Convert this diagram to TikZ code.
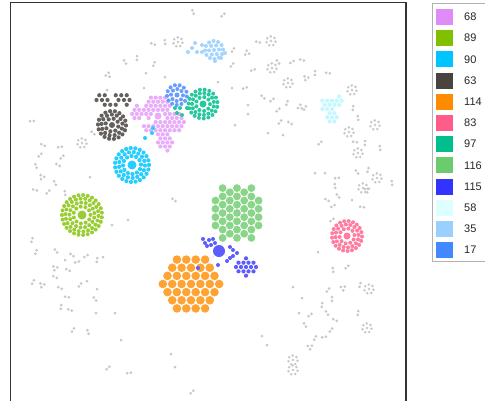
\documentclass[tikz,border=0pt]{standalone}
\usepackage{fontspec}
\setmainfont{Liberation Sans}
\definecolor{c68}{HTML}{E08CF8}
\definecolor{c89}{HTML}{80C000}
\definecolor{c90}{HTML}{00C4FF}
\definecolor{c63}{HTML}{4A4440}
\definecolor{c114}{HTML}{FF8C00}
\definecolor{c83}{HTML}{FF5C8A}
\definecolor{c97}{HTML}{00BF8C}
\definecolor{c116}{HTML}{6CCB6C}
\definecolor{c115}{HTML}{3333FF}
\definecolor{c58}{HTML}{DDFFFF}
\definecolor{c35}{HTML}{99D0FF}
\definecolor{c17}{HTML}{4488FF}
\definecolor{gdot}{HTML}{C8C8C8}
% lattice, horizontal rows: cx cy spacing n condition dotr style
\newcommand\latH[7]{%
 \foreach \i in {-#4,...,#4}{\foreach \j in {-#4,...,#4}{%
   \pgfmathsetmacro\dx{(\i+0.5*Mod(\j,2))*#3}%
   \pgfmathsetmacro\dy{\j*#3*0.866}%
   \pgfmathtruncatemacro\ins{#5}%
   \ifnum\ins=1 \fill[#7] (#1+\dx,#2+\dy) circle (#6);\fi
 }}}
% lattice, vertical columns
\newcommand\latV[7]{%
 \foreach \i in {-#4,...,#4}{\foreach \j in {-#4,...,#4}{%
   \pgfmathsetmacro\dy{(\i+0.5*Mod(\j,2))*#3}%
   \pgfmathsetmacro\dx{\j*#3*0.866}%
   \pgfmathtruncatemacro\ins{#5}%
   \ifnum\ins=1 \fill[#7] (#1+\dx,#2+\dy) circle (#6);\fi
 }}}
% ring cluster: cx cy hubr radii dotr style spacing
\newcommand\ringc[7]{%
 \fill[#6] (#1,#2) circle (#3);
 \foreach \rr in {#4}{%
   \pgfmathtruncatemacro\nn{2*pi*\rr/#7}%
   \foreach \k in {1,...,\nn}{\fill[#6] ([shift={(\k*360/\nn+\rr*23:\rr)}]#1,#2) circle (#5);}
 }}
% grey groups
\newcommand\gs[2]{\fill[gdot] (#1,#2) circle (1.5);}
\newcommand\gp[2]{\pgfmathsetmacro\ga{Mod(#1*7+#2*13,180)}%
 \fill[gdot] ([shift={(\ga:1.9)}]#1,#2) circle (1.5) ([shift={(\ga+180:1.9)}]#1,#2) circle (1.5);}
\newcommand\gt[2]{\pgfmathsetmacro\ga{Mod(#1*5+#2*11,120)}%
 \fill[gdot] ([shift={(\ga:2.3)}]#1,#2) circle (1.5) ([shift={(\ga+120:2.3)}]#1,#2) circle (1.5) ([shift={(\ga+240:2.3)}]#1,#2) circle (1.5);}
\newcommand\gr[2]{\fill[gdot] (#1,#2) circle (1.4);
 \foreach \k in {0,...,6}{\fill[gdot] ([shift={(\k*51.4+10:4.6)}]#1,#2) circle (1.4);}}
\begin{document}
\begin{tikzpicture}[x=1pt,y=-1pt,
  declare function={d2(\a,\b)=(\a)*(\a)+(\b)*(\b);},
  d68/.style={fill=c68!72!white},
  d89/.style={fill=c89!80!white},
  d90/.style={fill=c90!85!white},
  d63/.style={fill=c63!85!white},
  d114/.style={fill=c114!80!white},
  d83/.style={fill=c83!80!white},
  d97/.style={fill=c97!85!white},
  d116/.style={fill=c116!80!white},
  d115/.style={fill=c115!80!white},
  d58/.style={fill=c58!88!c90},
  d35/.style={fill=c35!90!white},
  d17/.style={fill=c17!82!white},
  faint/.style={draw=c115!12!white,line width=0.4},
  legtext/.style={anchor=west,font=\fontsize{11}{13}\selectfont,text=black!85,inner sep=0}]
\useasboundingbox (0,0) rectangle (485,400);
\fill[white] (0,0) rectangle (485,400);
% grey dots
\foreach \t/\x/\y in {p/193/12,p/223/15,r/178/42,p/153/44,p/165/42,p/125/62,p/137/58,t/108/75,p/154/64,s/146/73,s/165/77,s/144/88,s/107/90,
 p/32/121,p/93/133,r/82/143,p/43/145,p/40/155,p/60/147,p/62/157,p/36/166,p/58/165,t/42/177,p/35/190,p/48/192,p/55/183,s/90/177,p/65/193,
 p/32/240,p/36/252,p/56/251,p/72/255,p/77/262,p/86/256,p/97/260,s/103/257,s/65/260,t/55/268,p/68/270,p/55/277,p/33/282,t/42/285,p/60/288,p/80/285,s/87/281,s/97/289,p/67/297,p/95/299,p/61/307,p/70/310,s/96/313,s/115/313,p/73/330,p/88/332,s/121/340,p/108/368,p/129/373,s/171/354,s/175/367,p/192/392,s/112/225,s/128/220,p/174/200,
 r/271/41,p/258/42,p/233/50,t/247/53,p/232/65,r/272/68,p/253/70,s/218/82,s/232/88,p/245/88,r/288/83,p/278/62,p/292/62,p/302/60,t/306/78,p/315/73,p/328/73,p/263/97,p/272/100,s/248/105,s/248/114,p/278/110,p/287/103,t/300/107,p/280/122,p/290/123,s/235/125,s/268/133,s/283/135,
 r/352/90,p/353/108,p/358/118,r/349/132,r/375/125,p/320/143,r/358/153,p/380/148,s/315/173,s/325/173,p/337/178,r/377/178,t/367/190,p/392/183,p/305/108,p/355/142,p/365/143,p/357/172,p/368/170,p/335/186,r/363/188,p/327/200,p/338/196,p/333/206,s/352/200,p/362/207,p/332/220,
 s/318/252,p/333/270,p/347/267,t/343/288,r/369/289,p/360/285,s/293/287,s/302/298,p/328/290,p/332/299,p/322/305,p/327/313,p/335/320,s/299/313,p/310/315,p/305/325,p/331/330,p/358/313,r/367/328,p/315/338,p/324/337,t/310/347,s/262/336,s/267/345,r/293/360,r/293/370}
 {\csname g\t\endcsname{\x}{\y}}
% faint edges
\draw[faint] (219,251) -- (209,243) (219,251) -- (246,267) (219,251) -- (237,213) (219,251) -- (191,284) (219,251) -- (198,268) (219,251) -- (230,258);
\draw[draw=gray!12,line width=0.4] (145,138) -- (132,165) (153,128) -- (158,116);
% 68 violet
\latH{158}{118}{4.7}{10}{(d2(\dx,\dy+10)<196 || d2(\dx+20,\dy+6)<49 || d2(\dx-5,\dy-8)<144 || d2(\dx-8,\dy-24)<81 || d2(\dx-18,\dy-5)<100 || d2(\dx+10,\dy-10)<36) && d2(\dx,\dy+2)>=36}{2.1}{d68}
\fill[d68] (158,116) circle (3.5);
% 17 blue
\ringc{177}{95}{2.5}{6,10}{2}{d17}{4.6}
% 97 teal
\ringc{203}{104}{3.5}{7,11,14.5}{2}{d97}{4.6}
\foreach \x/\y in {175/108,180/108,177/113,182/115,187/108}{\fill[d97] (\x,\y) circle (2);}
% 63 dark
\ringc{112}{125}{3}{6.5,10.5,14}{2.1}{d63}{4.8}
\latH{113}{100}{5.5}{4}{d2(\dx/18,\dy/8)<1 && Mod(\i*3+\j*5,4)!=0}{2.1}{d63}
% 90 cyan
\ringc{132}{165}{4.5}{9,13,17}{2.1}{d90}{4.6}
\foreach \x/\y in {153/128,152/133,145/138}{\fill[d90] (\x,\y) circle (2);}
% 89 green
\ringc{82}{215}{4.5}{8.5,12.5,16.5,20}{2}{d89}{4.6}
% 35 light blue
\ringc{214}{50}{2}{5,9}{2}{d35}{4.6}
\foreach \x/\y in {192/48,195/43,197/52,202/52,202/45,225/53,215/61,221/58,188/52}{\fill[d35] (\x,\y) circle (2);}
% 58 light cyan
\latH{332}{109}{4.8}{4}{d2(\dx+5,\dy+4)<49 || d2(\dx-6,\dy+7)<36 || d2(\dx,\dy-7)<49}{2.1}{d58}
% 83 pink
\ringc{347}{236}{3.5}{7.5,11.5,15}{2}{d83}{4.4}
% 116 light green
\latV{237}{213}{8.3}{4}{d2(\dx/27,\dy/30)<1}{3.9}{d116}
% 114 orange
\latH{191}{284}{9.4}{5}{d2(\dx/33,\dy/31)<1}{4.3}{d114}
% 115 blue
\fill[d115] (219,251) circle (6);
\foreach \x/\y in {205/243,209/240,213/239,207/246,211/245,215/243,203/239}{\fill[d115] (\x,\y) circle (2);}
\foreach \x/\y in {230/247,233/250,237/253,230/258,233/256,227/261,218/265,198/268}{\fill[d115] (\x,\y) circle (2);}
\latH{246}{267}{5}{2}{d2(\dx/11,\dy/9)<1}{2.1}{d115}
% frame
\draw[black!80,line width=1] (10,403) -- (10,2.5) -- (406,2.5);
\draw[black!80,line width=2] (406,2) -- (406,403);
% legend
\draw[black!30,line width=0.8] (432,3) rectangle (495,261);
\foreach \c [count=\k from 0] in {68,89,90,63,114,83,97,116,115,58,35,17}{
  \fill[c\c] (436,9+21.2*\k) rectangle ++(17,16);
  \node[legtext] (l\k) at (464,17+21.2*\k) {\c};
}
\end{tikzpicture}
\end{document}
